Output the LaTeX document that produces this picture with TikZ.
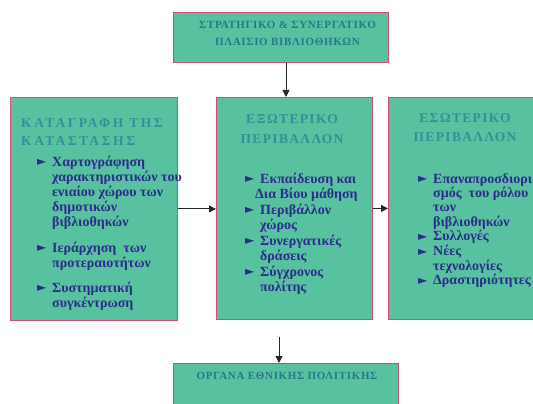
\documentclass[tikz,border=0pt]{standalone}
\usepackage{fontspec}
\setmainfont{Liberation Serif}
\newfontfamily\bodyfont{Liberation Serif}
\newfontfamily\titlefont{Liberation Serif}[LetterSpace=10]
\newfontfamily\widetitlefont{Liberation Serif}[LetterSpace=19]
\newfontfamily\smalltitlefont{Liberation Serif}[LetterSpace=6]
\newfontfamily\symfont{DejaVu Sans}
\usetikzlibrary{arrows.meta}
\definecolor{boxfill}{RGB}{88,193,160}
\definecolor{boxline}{RGB}{214,74,120}
\definecolor{titlecol}{RGB}{50,145,150}
\definecolor{smalltitlecol}{RGB}{40,120,140}
\definecolor{bodycol}{RGB}{44,44,140}
\newcommand\mybul{\makebox[15pt][l]{\symfont\fontsize{12}{12}\selectfont\raisebox{0.3pt}{►}}}
\newcommand\myind{\hspace*{15pt}}
\begin{document}
\begin{tikzpicture}[x=1pt,y=-1pt,
  box/.style={draw=boxline,fill=boxfill,line width=0.9pt,inner sep=0pt,anchor=north west},
  conn/.style={-{Triangle[length=7pt,width=7pt]},line width=1pt,draw=black!85},
  bodytext/.style={inner sep=0pt,text=bodycol,font=\bodyfont\bfseries\fontsize{14}{15}\selectfont},
  bigtitle/.style={inner sep=0pt,text=titlecol,font=\titlefont\bfseries\fontsize{13.5}{18}\selectfont},
  smalltitle/.style={inner sep=0pt,text=smalltitlecol,font=\smalltitlefont\bfseries\fontsize{11}{17}\selectfont}]
\useasboundingbox (0,0) rectangle (533,404);
\clip (0,0) rectangle (533,404);
% boxes
\node[box,minimum width=215pt,minimum height=50pt] (top) at (173,12) {};
\node[box,minimum width=167pt,minimum height=223pt] (left) at (10,97) {};
\node[box,minimum width=156pt,minimum height=222pt] (mid) at (216,97) {};
\node[box,minimum width=160pt,minimum height=222pt] (right) at (388,97) {};
\node[box,minimum width=225pt,minimum height=60pt] (bottom) at (173,363) {};
% connectors
\coordinate (ax) at (286,0);
\draw[conn] (top.south -| ax) -- (mid.north -| ax);
\draw[conn] (left.east) -- (left.east -| mid.west);
\draw[conn] (mid.east) -- (mid.east -| right.west);
\coordinate (bstart) at (279,337);
\draw[conn] (bstart) -- (bstart |- bottom.north);
% texts
\node[smalltitle,anchor=base] (toptext) at (287.5,28.5)
  {\begin{tabular}[t]{@{}c@{}}ΣΤΡΑΤΗΓΙΚΟ \& ΣΥΝΕΡΓΑΤΙΚΟ\\ ΠΛΑΙΣΙΟ ΒΙΒΛΙΟΘΗΚΩΝ\end{tabular}};
\node[smalltitle,anchor=base] (bottext) at (287,379.5) {ΟΡΓΑΝΑ ΕΘΝΙΚΗΣ ΠΟΛΙΤΙΚΗΣ};
\node[bigtitle,anchor=base west] (ltitle) at (21,127.5)
  {\widetitlefont\bfseries\begin{tabular}[t]{@{}l@{}}ΚΑΤΑΓΡΑΦΗ ΤΗΣ\\ ΚΑΤΑΣΤΑΣΗΣ\end{tabular}};
\node[bigtitle,anchor=base] (mtitle) at (292,123.5)
  {\fontsize{13.5}{20}\selectfont\begin{tabular}[t]{@{}c@{}}ΕΞΩΤΕΡΙΚΟ\\ ΠΕΡΙΒΑΛΛΟΝ\end{tabular}};
\node[bigtitle,anchor=base] (rtitle) at (465,122.5)
  {\fontsize{13.5}{19}\selectfont\begin{tabular}[t]{@{}c@{}}ΕΣΩΤΕΡΙΚΟ\\ ΠΕΡΙΒΑΛΛΟΝ\end{tabular}};
\node[bodytext,anchor=base west] (ltext) at (37,166)
  {\begin{tabular}[t]{@{}l@{}}
  \mybul Χαρτογράφηση\\
  \myind χαρακτηριστικών του\\
  \myind ενιαίου χώρου των\\
  \myind δημοτικών\\
  \myind βιβλιοθηκών\\[11pt]
  \mybul Ιεράρχηση\ \ των\\
  \myind προτεραιοτήτων\\[10pt]
  \mybul Συστηματική\\
  \myind συγκέντρωση
  \end{tabular}};
\node[bodytext,anchor=base west] (mtext) at (245,183)
  {\fontsize{14}{15.5}\selectfont\begin{tabular}[t]{@{}l@{}}
  \mybul Εκπαίδευση και\\
  \hspace*{10pt}Δια Βίου μάθηση\\
  \mybul Περιβάλλον\\
  \myind χώρος\\
  \mybul Συνεργατικές\\
  \myind δράσεις\\
  \mybul Σύγχρονος\\
  \myind πολίτης
  \end{tabular}};
\node[bodytext,anchor=base west] (rtext) at (418,183)
  {\fontsize{14}{14}\selectfont\begin{tabular}[t]{@{}l@{}}
  \mybul Επαναπροσδιορισ-\\
  \myind σμός\ \ του ρόλου\\
  \myind των\\
  \myind βιβλιοθηκών\\
  \mybul Συλλογές\\
  \mybul Νέες\\
  \myind τεχνολογίες\\
  \mybul Δραστηριότητες
  \end{tabular}};
\end{tikzpicture}
\end{document}
